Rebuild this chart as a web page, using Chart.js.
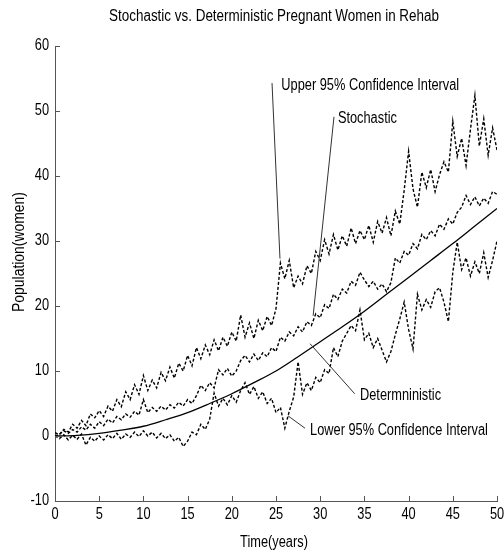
<!DOCTYPE html>
<html>
<head>
  <title>Pregnant Women in Rehab</title>
  <script src="https://cdn.jsdelivr.net/npm/chart.js"></script>
  <style>
    body { margin: 0; background: #fff; }
    canvas { display: block; }
  </style>
</head>
<body>
  <canvas id="rehabChart" width="504" height="554"></canvas>

  <script>
    // time grid for the simulated runs (years)
    const years = [
      0, 0.5, 1, 1.5, 2, 2.5, 3, 3.5, 4, 4.5, 5, 5.5, 6, 6.5, 7, 7.5, 8, 8.5, 9, 9.5,
      10, 10.5, 11, 11.5, 12, 12.5, 13, 13.5, 14, 14.5, 15, 15.5, 16, 16.5, 17, 17.5, 18, 18.5, 19, 19.5,
      20, 20.5, 21, 21.5, 22, 22.5, 23, 23.5, 24, 24.5, 25, 25.5, 26, 26.5, 27, 27.5, 28, 28.5, 29, 29.5,
      30, 30.5, 31, 31.5, 32, 32.5, 33, 33.5, 34, 34.5, 35, 35.5, 36, 36.5, 37, 37.5, 38, 38.5, 39, 39.5,
      40, 40.5, 41, 41.5, 42, 42.5, 43, 43.5, 44, 44.5, 45, 45.5, 46, 46.5, 47, 47.5, 48, 48.5, 49, 49.5, 50
    ];

    const upperCI = [
      0.5, 0.2, 1.0, 0.6, 1.8, 1.2, 2.4, 1.6, 3.4, 2.8, 3.9, 3.0, 4.6, 3.8, 5.6, 4.5, 6.8, 5.6, 7.9, 6.4,
      9.3, 7.0, 8.6, 7.4, 9.8, 8.5, 10.6, 8.9, 11.2, 10.0, 12.4, 10.8, 13.6, 11.9, 14.0, 12.5, 14.8, 13.1, 15.2, 13.8,
      16.0, 14.6, 18.6, 15.2, 17.4, 15.0, 17.8, 16.2, 18.4, 17.0, 19.6, 26.6, 24.2, 27.0, 22.8, 24.6, 23.4, 26.2, 25.0, 28.4,
      27.0, 30.2, 28.0, 31.0, 28.6, 30.8, 29.2, 32.0, 29.6, 31.6, 30.2, 32.4, 29.8, 33.0, 31.2, 33.6, 30.8, 34.6, 32.6, 37.8,
      43.8, 38.0, 35.2, 40.6, 38.2, 41.0, 37.6, 40.2, 42.2, 40.6, 48.4, 43.0, 45.8, 41.6, 47.2, 52.4, 44.6, 48.8, 43.2, 47.4, 44.0
    ];

    const stochastic = [
      0.0, 0.3, 0.8, 0.4, 1.0, 0.6, 1.4, 0.9, 1.8, 1.2, 2.2, 1.6, 2.6, 2.0, 3.0, 2.5, 3.4, 2.9, 3.8, 3.2,
      5.6, 3.6, 4.4, 3.8, 4.6, 4.0, 4.8, 4.3, 5.2, 4.6, 5.6, 5.0, 6.2, 7.8, 7.0, 8.2, 7.4, 10.2, 9.4, 10.4,
      9.2, 10.0, 11.6, 12.4, 11.4, 12.6, 11.6, 12.8, 12.2, 13.6, 13.0, 15.2, 14.6, 16.0, 15.4, 16.8, 16.0, 17.6, 17.0, 18.8,
      18.2, 20.2, 19.6, 21.8, 21.0, 22.6, 22.0, 23.8, 23.2, 25.2, 24.0, 23.0, 23.8, 22.6, 23.4, 22.2, 23.6, 27.4, 26.6, 28.4,
      27.8, 29.6, 28.8, 31.0, 30.2, 31.6, 30.8, 32.6, 31.8, 33.4, 32.6, 34.4, 35.2, 37.0, 35.6, 36.8, 35.4, 36.6, 35.8, 37.6, 37.2
    ];

    const lowerCI = [
      0.0, -0.4, 0.2, -0.6, 0.1, -0.5, 0.3, -1.4, -0.2, -0.8, 0.0, -0.6, 0.2, -0.4, 0.4, -0.5, 0.3, -0.2, 0.6, -0.1,
      0.8, 0.0, 0.6, -0.3, 0.4, -0.4, 0.2, -0.8, -0.2, -1.6, -0.8, 0.6, 0.2, 1.8, 1.0, 2.6, 6.6, 4.6, 5.8, 4.8,
      6.2, 5.2, 7.0, 8.2, 6.4, 7.6, 5.8, 6.8, 5.0, 5.8, 3.6, 4.4, 1.2, 3.8, 6.0, 11.4, 6.4, 8.2, 7.0, 9.0,
      8.2, 10.2, 9.6, 13.6, 12.2, 14.6, 15.8, 17.0, 16.2, 19.4, 14.8, 15.8, 13.6, 15.0, 13.2, 11.4, 13.0, 15.6, 18.0, 20.6,
      16.4, 13.4, 21.8, 19.4, 21.0, 19.8, 22.2, 22.8, 20.6, 17.6, 25.2, 29.8, 25.6, 27.4, 24.6, 26.8, 25.0, 28.2, 24.4, 27.0, 30.0
    ];

    // deterministic model output
    const detYears = [0, 2.5, 5, 7.5, 10, 12.5, 15, 17.5, 20, 22.5, 25, 27.5, 30, 32.5, 35, 37.5, 40, 42.5, 45, 47.5, 50];
    const deterministic = [0, 0.1, 0.4, 0.9, 1.5, 2.5, 3.6, 5.0, 6.5, 8.2, 10.0, 12.2, 14.5, 16.8, 19.2, 21.8, 24.4, 27.0, 29.6, 32.3, 35.0];

    const xTicks = [0, 5, 10, 15, 20, 25, 30, 35, 40, 45, 50];
    const yTicks = [-10, 0, 10, 20, 30, 40, 50, 60];

    // text labels with leader lines: [text, textX, textY, lineFromX, lineFromY, lineToX, lineToY]
    const callouts = [
      ['Upper 95% Confidence Interval', 25.6, 53.9, 24.55, 54.3, 25.45, 27.3],
      ['Stochastic', 32.0, 48.9, 31.56, 49.1, 29.2, 18.5],
      ['Determninistic', 34.5, 6.2, 28.85, 14.2, 33.9, 6.5],
      ['Lower 95% Confidence Interval', 28.85, 0.8, 26.36, 3.1, 28.28, 1.2]
    ];

    const FONT = '16px "Liberation Sans", Arial, sans-serif';
    const AXIS_COLOR = '#555';

    const toPoints = (xs, ys) => xs.map((x, i) => ({ x: x, y: ys[i] }));

    const noisy = (label, values) => ({
      label: label,
      data: toPoints(years, values),
      borderColor: '#000',
      borderWidth: 1.4,
      borderDash: [3, 2],
      pointRadius: 0,
      tension: 0,
      fill: false
    });

    // draws text squeezed horizontally (narrow glyphs, like the old plot font)
    function narrowText(ctx, text, x, y, align, squeeze, angle) {
      ctx.save();
      ctx.translate(x, y);
      if (angle) ctx.rotate(angle);
      ctx.scale(squeeze, 1);
      ctx.textAlign = align;
      ctx.fillText(text, 0, 0);
      ctx.restore();
    }

    // titles, tick marks, tick labels and callouts
    const annotate = {
      id: 'annotate',
      afterDraw(chart) {
        const ctx = chart.ctx;
        const xs = chart.scales.x;
        const ys = chart.scales.y;
        const area = chart.chartArea;

        ctx.save();
        ctx.strokeStyle = AXIS_COLOR;
        ctx.lineWidth = 1;
        ctx.beginPath();
        xTicks.forEach(t => {
          const px = Math.round(xs.getPixelForValue(t)) + 0.5;
          ctx.moveTo(px, area.bottom);
          ctx.lineTo(px, area.bottom - 5);
        });
        yTicks.forEach(t => {
          const py = Math.round(ys.getPixelForValue(t)) + 0.5;
          ctx.moveTo(area.left, py);
          ctx.lineTo(area.left + 5, py);
        });
        ctx.stroke();

        ctx.fillStyle = '#000';
        ctx.font = FONT;
        ctx.textBaseline = 'middle';

        xTicks.forEach(t => narrowText(ctx, String(t), xs.getPixelForValue(t), area.bottom + 14, 'center', 0.8));
        yTicks.forEach(t => narrowText(ctx, String(t), area.left - 6, ys.getPixelForValue(t), 'right', 0.8));

        narrowText(ctx, 'Stochastic vs. Deterministic Pregnant Women in Rehab', 274, 17, 'center', 0.84);
        narrowText(ctx, 'Time(years)', 274, 543, 'center', 0.8);
        narrowText(ctx, 'Population(women)', 20, 252, 'center', 0.87, -Math.PI / 2);

        ctx.strokeStyle = '#333';
        ctx.beginPath();
        callouts.forEach(c => {
          ctx.moveTo(xs.getPixelForValue(c[3]), ys.getPixelForValue(c[4]));
          ctx.lineTo(xs.getPixelForValue(c[5]), ys.getPixelForValue(c[6]));
        });
        ctx.stroke();

        callouts.forEach(c => {
          narrowText(ctx, c[0], xs.getPixelForValue(c[1]), ys.getPixelForValue(c[2]), 'left', 0.8);
        });
        ctx.restore();
      }
    };

    new Chart(document.getElementById('rehabChart'), {
      type: 'line',
      data: {
        datasets: [
          noisy('Upper 95% Confidence Interval', upperCI),
          noisy('Stochastic', stochastic),
          noisy('Lower 95% Confidence Interval', lowerCI),
          {
            label: 'Determninistic',
            data: toPoints(detYears, deterministic),
            borderColor: '#000',
            borderWidth: 1.3,
            pointRadius: 0,
            cubicInterpolationMode: 'monotone',
            fill: false
          }
        ]
      },
      options: {
        responsive: false,
        animation: false,
        devicePixelRatio: 1,
        layout: { padding: { top: 46, right: 7, left: 0, bottom: 0 } },
        plugins: {
          legend: { display: false },
          title: { display: false },
          tooltip: { enabled: false }
        },
        scales: {
          x: {
            type: 'linear',
            min: 0,
            max: 50,
            afterFit: s => { s.height = 53; },
            ticks: { display: false },
            grid: { display: false, drawTicks: false },
            border: { display: true, color: AXIS_COLOR, width: 1 }
          },
          y: {
            type: 'linear',
            min: -10,
            max: 60,
            afterFit: s => { s.width = 55; },
            ticks: { display: false },
            grid: { display: false, drawTicks: false },
            border: { display: true, color: AXIS_COLOR, width: 1 }
          }
        }
      },
      plugins: [annotate]
    });
  </script>
</body>
</html>
